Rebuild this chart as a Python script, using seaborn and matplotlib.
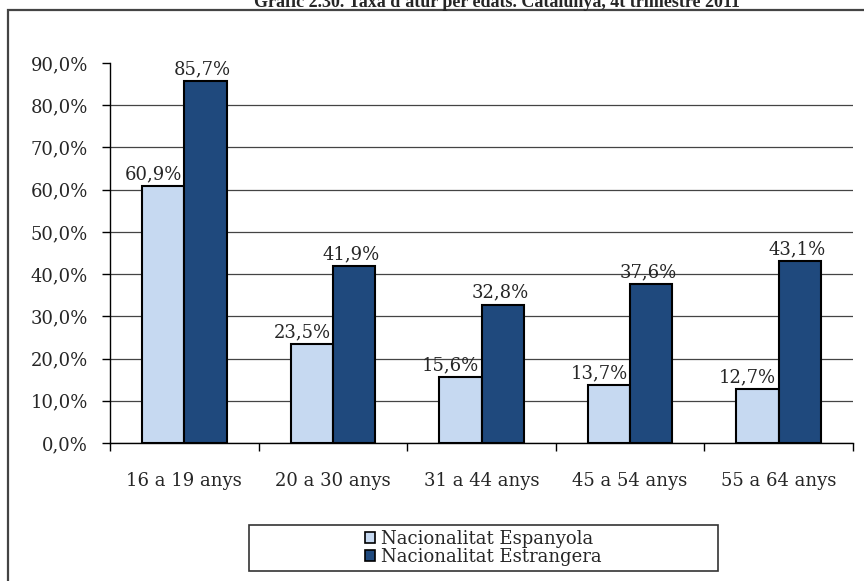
import pandas as pd
import matplotlib.pyplot as plt
import matplotlib.patches as mpatches
import seaborn as sns

# Dades del gràfic
edats = ['16 a 19 anys', '20 a 30 anys', '31 a 44 anys', '45 a 54 anys', '55 a 64 anys']
espanyola = [60.9, 23.5, 15.6, 13.7, 12.7]
estrangera = [85.7, 41.9, 32.8, 37.6, 43.1]
series = ['Nacionalitat Espanyola', 'Nacionalitat Estrangera']
colors = ['#C6D9F1', '#1F497D']
y_ticks = [0, 10, 20, 30, 40, 50, 60, 70, 80, 90]
title = "Gràfic 2.30. Taxa d'atur per edats. Catalunya, 4t trimestre 2011"

df = pd.DataFrame({
    'edat': edats * 2,
    'serie': [series[0]] * len(edats) + [series[1]] * len(edats),
    'taxa': espanyola + estrangera,
})

sns.set_style('white')
plt.rcParams['font.family'] = ['DejaVu Serif']

fig = plt.figure(figsize=(8.64, 5.81), dpi=100)
ax = fig.add_axes([110 / 864, 1 - 443 / 581, 743 / 864, 380 / 581])

sns.barplot(data=df, x='edat', y='taxa', hue='serie', palette=colors,
            width=0.57, edgecolor='black', linewidth=1.5, saturation=1,
            ax=ax, legend=True)

ax.set_xlim(-0.5, 4.5)
ax.set_ylim(0, 90)
ax.set_yticks(y_ticks)
ax.set_yticklabels([f'{v:.1f}'.replace('.', ',') + '%' for v in y_ticks], fontsize=13)
ax.tick_params(axis='y', direction='out', length=6, width=1, color='black', pad=10, left=True)
ax.set_xticks([i + 0.5 for i in range(-1, len(edats))])
ax.set_xticklabels([])
ax.tick_params(axis='x', which='major', direction='out', length=6, width=1, color='black', bottom=True)
ax.set_xticks(range(len(edats)), minor=True)
ax.set_xticklabels(edats, minor=True, fontsize=13)
ax.tick_params(axis='x', which='minor', length=0, pad=21)
ax.set_xlabel('')
ax.set_ylabel('')

ax.yaxis.grid(True, color='#444444', linewidth=0.9)
ax.xaxis.grid(False)
ax.set_axisbelow(True)
ax.get_ygridlines()[-1].set_visible(False)
for side in ['top', 'right']:
    ax.spines[side].set_visible(False)
for side in ['left', 'bottom']:
    ax.spines[side].set_color('black')
    ax.spines[side].set_linewidth(1)

# Etiquetes de valor
for cont, offs in zip(ax.containers, [-7, -2]):
    for bar in cont:
        h = bar.get_height()
        ax.annotate(f'{h:.1f}'.replace('.', ',') + '%',
                    (bar.get_x() + bar.get_width() / 2, h),
                    xytext=(offs, 2), textcoords='offset points',
                    ha='center', va='bottom', fontsize=13)

# Llegenda
handles, labels = ax.get_legend_handles_labels()
ax.legend_.remove()
for hnd in handles:
    hnd.set_edgecolor('black')
    hnd.set_linewidth(1.2)
fig.legend(handles, labels, loc='center', bbox_to_anchor=(483 / 864, 1 - 548 / 581),
           frameon=False, fontsize=13, handlelength=0.6, handleheight=0.6,
           handletextpad=0.3, labelspacing=0.0, borderpad=0)
fig.patches.append(mpatches.Rectangle((249 / 864, 1 - 571 / 581), 469 / 864, 46 / 581,
                                      transform=fig.transFigure, fill=False,
                                      edgecolor='#333333', linewidth=1.2))

# Marc i títol
fig.patches.append(mpatches.Rectangle((8 / 864, -0.05), 1.0, 1 - 10 / 581 + 0.05,
                                      transform=fig.transFigure, fill=False,
                                      edgecolor='#444444', linewidth=1.6))
fig.text(497 / 864, 1 - 7 / 581, title, ha='center', va='baseline',
         fontsize=13, fontweight='bold', family=['Liberation Serif', 'DejaVu Serif'])

fig.savefig('out.png', dpi=100)
